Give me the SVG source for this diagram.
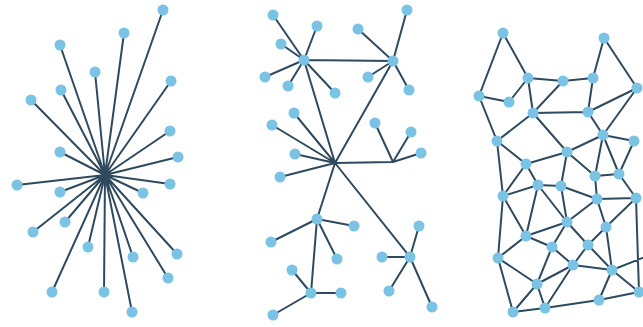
<svg xmlns="http://www.w3.org/2000/svg" width="643" height="327" viewBox="0 0 643 327">
<style>
.e{stroke:#2f4a5f;stroke-width:2;fill:none;stroke-linecap:round}
.n{fill:#7ac3e5}
</style>
<rect width="643" height="327" fill="#ffffff"/>
<g id="connectors" class="e">
<!-- panel 1 star -->
<path d="M105,175L163,10M105,175L124,33M105,175L60,45M105,175L95,72M105,175L171,81M105,175L31,100M105,175L61,90M105,175L170,131M105,175L178,157M105,175L60,152M105,175L17,185M105,175L60,192M105,175L143,193M105,175L170,184M105,175L65,222M105,175L33,232M105,175L88,247M105,175L133,257M105,175L177,254M105,175L168,278M105,175L52,292M105,175L104,292M105,175L132,312"/>
<!-- panel 2 tree -->
<path d="M304,60L273,15M304,60L317,26M304,60L281,44M304,60L265,77M304,60L288,86M304,60L335,93M393,61L407,10M393,61L358,29M393,61L368,77M393,61L409,90M304,60L393,61M304,60L335,163M393,61L335,163M335,163L393,162M335,163L294,113M335,163L272,125M335,163L295,154M335,163L280,177M393,162L375,123M393,162L411,132M393,162L421,153M335,163L317,219M335,163L410,257M317,219L271,242M317,219L354,226M317,219L337,259M317,219L311,293M311,293L292,270M311,293L341,293M311,293L273,315M410,257L419,226M410,257L382,257M410,257L389,291M410,257L432,307"/>
<!-- panel 3 mesh -->
<path d="M503,33L479,96M503,33L528,78M479,96L509,102M509,102L528,78M479,96L497,141M528,78L533,113M528,78L563,81M563,81L593,78M563,81L533,113M533,113L588,112M593,78L588,112M593,78L604,38M604,38L637,88M637,88L588,112M637,88L603,135M588,112L603,135M533,113L497,141M533,113L567,152M497,141L526,164M497,141L503,196M526,164L567,152M567,152L603,135M603,135L634,141M603,135L595,176M603,135L619,174M634,141L619,174M567,152L595,176M567,152L561,186M526,164L538,185M526,164L503,196M538,185L561,186M538,185L503,196M538,185L567,222M538,185L526,236M561,186L597,199M561,186L567,222M595,176L619,174M595,176L597,199M619,174L636,198M597,199L636,198M597,199L567,222M597,199L606,227M636,198L606,227M636,198L639,292M503,196L526,236M503,196L498,258M526,236L498,258M526,236L552,247M526,236L567,222M552,247L567,222M552,247L573,265M552,247L537,284M567,222L588,245M606,227L588,245M606,227L612,270M588,245L573,265M588,245L612,270M498,258L537,284M498,258L513,312M537,284L513,312M537,284L545,308M513,312L545,308M537,284L573,265M545,308L573,265M545,308L599,300M573,265L612,270M612,270L599,300M612,270L639,292M599,300L639,292M612,270L650,255"/>
</g>
<g id="panel1">
<g id="p1-n1"><circle class="n" cx="163" cy="10" r="5.5"/></g>
<g id="p1-n2"><circle class="n" cx="124" cy="33" r="5.5"/></g>
<g id="p1-n3"><circle class="n" cx="60" cy="45" r="5.5"/></g>
<g id="p1-n4"><circle class="n" cx="95" cy="72" r="5.5"/></g>
<g id="p1-n5"><circle class="n" cx="171" cy="81" r="5.5"/></g>
<g id="p1-n6"><circle class="n" cx="31" cy="100" r="5.5"/></g>
<g id="p1-n7"><circle class="n" cx="61" cy="90" r="5.5"/></g>
<g id="p1-n8"><circle class="n" cx="170" cy="131" r="5.5"/></g>
<g id="p1-n9"><circle class="n" cx="178" cy="157" r="5.5"/></g>
<g id="p1-n10"><circle class="n" cx="60" cy="152" r="5.5"/></g>
<g id="p1-n11"><circle class="n" cx="17" cy="185" r="5.5"/></g>
<g id="p1-n12"><circle class="n" cx="60" cy="192" r="5.5"/></g>
<g id="p1-n13"><circle class="n" cx="143" cy="193" r="5.5"/></g>
<g id="p1-n14"><circle class="n" cx="170" cy="184" r="5.5"/></g>
<g id="p1-n15"><circle class="n" cx="65" cy="222" r="5.5"/></g>
<g id="p1-n16"><circle class="n" cx="33" cy="232" r="5.5"/></g>
<g id="p1-n17"><circle class="n" cx="88" cy="247" r="5.5"/></g>
<g id="p1-n18"><circle class="n" cx="133" cy="257" r="5.5"/></g>
<g id="p1-n19"><circle class="n" cx="177" cy="254" r="5.5"/></g>
<g id="p1-n20"><circle class="n" cx="168" cy="278" r="5.5"/></g>
<g id="p1-n21"><circle class="n" cx="52" cy="292" r="5.5"/></g>
<g id="p1-n22"><circle class="n" cx="104" cy="292" r="5.5"/></g>
<g id="p1-n23"><circle class="n" cx="132" cy="312" r="5.5"/></g>
</g>
<g id="panel2">
<g id="p2-A"><circle class="n" cx="304" cy="60" r="5.5"/></g>
<g id="p2-B"><circle class="n" cx="393" cy="61" r="5.5"/></g>
<g id="p2-E"><circle class="n" cx="317" cy="219" r="5.5"/></g>
<g id="p2-F"><circle class="n" cx="311" cy="293" r="5.5"/></g>
<g id="p2-G"><circle class="n" cx="410" cy="257" r="5.5"/></g>
<g id="p2-n1"><circle class="n" cx="273" cy="15" r="5.5"/></g>
<g id="p2-n2"><circle class="n" cx="317" cy="26" r="5.5"/></g>
<g id="p2-n3"><circle class="n" cx="281" cy="44" r="5.5"/></g>
<g id="p2-n4"><circle class="n" cx="265" cy="77" r="5.5"/></g>
<g id="p2-n5"><circle class="n" cx="288" cy="86" r="5.5"/></g>
<g id="p2-n6"><circle class="n" cx="335" cy="93" r="5.5"/></g>
<g id="p2-n7"><circle class="n" cx="407" cy="10" r="5.5"/></g>
<g id="p2-n8"><circle class="n" cx="358" cy="29" r="5.5"/></g>
<g id="p2-n9"><circle class="n" cx="368" cy="77" r="5.5"/></g>
<g id="p2-n10"><circle class="n" cx="409" cy="90" r="5.5"/></g>
<g id="p2-n11"><circle class="n" cx="294" cy="113" r="5.5"/></g>
<g id="p2-n12"><circle class="n" cx="272" cy="125" r="5.5"/></g>
<g id="p2-n13"><circle class="n" cx="295" cy="154" r="5.5"/></g>
<g id="p2-n14"><circle class="n" cx="280" cy="177" r="5.5"/></g>
<g id="p2-n15"><circle class="n" cx="375" cy="123" r="5.5"/></g>
<g id="p2-n16"><circle class="n" cx="411" cy="132" r="5.5"/></g>
<g id="p2-n17"><circle class="n" cx="421" cy="153" r="5.5"/></g>
<g id="p2-n18"><circle class="n" cx="271" cy="242" r="5.5"/></g>
<g id="p2-n19"><circle class="n" cx="354" cy="226" r="5.5"/></g>
<g id="p2-n20"><circle class="n" cx="337" cy="259" r="5.5"/></g>
<g id="p2-n21"><circle class="n" cx="292" cy="270" r="5.5"/></g>
<g id="p2-n22"><circle class="n" cx="341" cy="293" r="5.5"/></g>
<g id="p2-n23"><circle class="n" cx="273" cy="315" r="5.5"/></g>
<g id="p2-n24"><circle class="n" cx="419" cy="226" r="5.5"/></g>
<g id="p2-n25"><circle class="n" cx="382" cy="257" r="5.5"/></g>
<g id="p2-n26"><circle class="n" cx="389" cy="291" r="5.5"/></g>
<g id="p2-n27"><circle class="n" cx="432" cy="307" r="5.5"/></g>
</g>
<g id="panel3">
<g id="p3-n1"><circle class="n" cx="503" cy="33" r="5.5"/></g>
<g id="p3-n2"><circle class="n" cx="604" cy="38" r="5.5"/></g>
<g id="p3-n3"><circle class="n" cx="479" cy="96" r="5.5"/></g>
<g id="p3-n4"><circle class="n" cx="509" cy="102" r="5.5"/></g>
<g id="p3-n5"><circle class="n" cx="528" cy="78" r="5.5"/></g>
<g id="p3-n6"><circle class="n" cx="563" cy="81" r="5.5"/></g>
<g id="p3-n7"><circle class="n" cx="593" cy="78" r="5.5"/></g>
<g id="p3-n8"><circle class="n" cx="637" cy="88" r="5.5"/></g>
<g id="p3-n9"><circle class="n" cx="533" cy="113" r="5.5"/></g>
<g id="p3-n10"><circle class="n" cx="588" cy="112" r="5.5"/></g>
<g id="p3-n11"><circle class="n" cx="497" cy="141" r="5.5"/></g>
<g id="p3-n12"><circle class="n" cx="603" cy="135" r="5.5"/></g>
<g id="p3-n13"><circle class="n" cx="634" cy="141" r="5.5"/></g>
<g id="p3-n14"><circle class="n" cx="567" cy="152" r="5.5"/></g>
<g id="p3-n15"><circle class="n" cx="526" cy="164" r="5.5"/></g>
<g id="p3-n16"><circle class="n" cx="538" cy="185" r="5.5"/></g>
<g id="p3-n17"><circle class="n" cx="561" cy="186" r="5.5"/></g>
<g id="p3-n18"><circle class="n" cx="503" cy="196" r="5.5"/></g>
<g id="p3-n19"><circle class="n" cx="595" cy="176" r="5.5"/></g>
<g id="p3-n20"><circle class="n" cx="619" cy="174" r="5.5"/></g>
<g id="p3-n21"><circle class="n" cx="597" cy="199" r="5.5"/></g>
<g id="p3-n22"><circle class="n" cx="636" cy="198" r="5.5"/></g>
<g id="p3-n23"><circle class="n" cx="567" cy="222" r="5.5"/></g>
<g id="p3-n24"><circle class="n" cx="606" cy="227" r="5.5"/></g>
<g id="p3-n25"><circle class="n" cx="526" cy="236" r="5.5"/></g>
<g id="p3-n26"><circle class="n" cx="552" cy="247" r="5.5"/></g>
<g id="p3-n27"><circle class="n" cx="588" cy="245" r="5.5"/></g>
<g id="p3-n28"><circle class="n" cx="498" cy="258" r="5.5"/></g>
<g id="p3-n29"><circle class="n" cx="573" cy="265" r="5.5"/></g>
<g id="p3-n30"><circle class="n" cx="612" cy="270" r="5.5"/></g>
<g id="p3-n31"><circle class="n" cx="537" cy="284" r="5.5"/></g>
<g id="p3-n32"><circle class="n" cx="639" cy="292" r="5.5"/></g>
<g id="p3-n33"><circle class="n" cx="513" cy="312" r="5.5"/></g>
<g id="p3-n34"><circle class="n" cx="545" cy="308" r="5.5"/></g>
<g id="p3-n35"><circle class="n" cx="599" cy="300" r="5.5"/></g>
</g>
</svg>
